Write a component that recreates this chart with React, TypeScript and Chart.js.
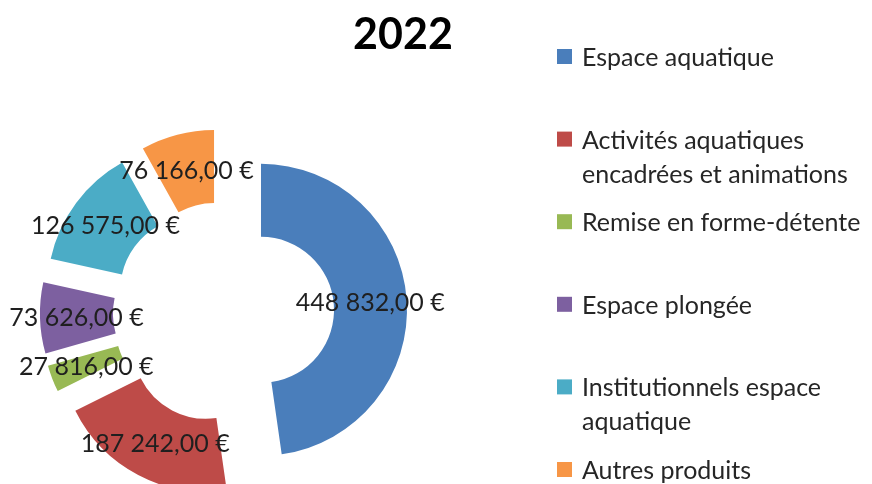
import React, { useEffect, useRef } from "react";
import { Chart, registerables } from "chart.js";

Chart.register(...registerables);

const TITLE = "2022";
const categories = [
  "Espace aquatique",
  "Activités aquatiques encadrées et animations",
  "Remise en forme-détente",
  "Espace plongée",
  "Institutionnels espace aquatique",
  "Autres produits",
];
const values = [448832, 187242, 27816, 73626, 126575, 76166];
const colors = ["#4A7EBB", "#BE4B48", "#98B954", "#7D60A0", "#4BACC6", "#F79646"];

const FONT = "Lato, 'Open Sans', sans-serif";
const EXPLODE = 0.2575; // fraction of outer radius

function formatEuro(v: number): string {
  const [intPart, dec] = v.toFixed(2).split(".");
  const withSpaces = intPart.replace(/\B(?=(\d{3})+(?!\d))/g, " ");
  return `${withSpaces},${dec} €`;
}

function wrap(ctx: CanvasRenderingContext2D, text: string, maxWidth: number): string[] {
  const words = text.split(" ");
  const lines: string[] = [];
  let cur = "";
  for (const w of words) {
    const test = cur ? cur + " " + w : w;
    if (ctx.measureText(test).width > maxWidth && cur) {
      lines.push(cur);
      cur = w;
    } else {
      cur = test;
    }
  }
  if (cur) lines.push(cur);
  return lines;
}

const explodePlugin = {
  id: "explode",
  beforeDatasetDraw(chart: any, args: any) {
    args.meta.data.forEach((arc: any) => {
      if (arc._exploded) return;
      const base = Object.getPrototypeOf(arc).draw;
      arc.draw = function (ctx: CanvasRenderingContext2D) {
        const d = EXPLODE * this.outerRadius;
        const mid = (this.startAngle + this.endAngle) / 2;
        ctx.save();
        ctx.translate(Math.cos(mid) * d, Math.sin(mid) * d);
        base.call(this, ctx);
        ctx.restore();
      };
      arc._exploded = true;
    });
  },
};

const decorPlugin = {
  id: "decor",
  afterDatasetsDraw(chart: any) {
    const ctx: CanvasRenderingContext2D = chart.ctx;
    const meta = chart.getDatasetMeta(0);
    const ds = chart.data.datasets[0];
    ctx.save();
    // data labels
    ctx.font = `25px ${FONT}`;
    ctx.fillStyle = "#1f1f1f";
    ctx.textAlign = "center";
    ctx.textBaseline = "alphabetic";
    meta.data.forEach((arc: any, i: number) => {
      const mid = (arc.startAngle + arc.endAngle) / 2;
      const r = (arc.innerRadius + arc.outerRadius) / 2 + EXPLODE * arc.outerRadius;
      const x = arc.x + Math.cos(mid) * r;
      const y = arc.y + Math.sin(mid) * r;
      ctx.fillText(formatEuro(ds.data[i] as number), x, y + 9);
    });

    // title
    ctx.font = `bold 43px ${FONT}`;
    ctx.fillStyle = "#000";
    ctx.fillText(TITLE, 403, 49);

    // legend
    ctx.font = `25px ${FONT}`;
    ctx.textAlign = "left";
    const labels: string[] = chart.data.labels;
    labels.forEach((lab, i) => {
      const yc = 57 + i * 82.6;
      ctx.fillStyle = (ds.backgroundColor as string[])[i];
      ctx.fillRect(557, yc - 8, 15, 15);
      ctx.fillStyle = "#262626";
      const lines = wrap(ctx, lab, 292);
      lines.forEach((ln, j) => {
        ctx.fillText(ln, 582, yc + 9 + j * 34);
      });
    });
    ctx.restore();
  },
};

export default function App() {
  const ref = useRef<HTMLCanvasElement | null>(null);
  useEffect(() => {
    if (!ref.current) return;
    const chart = new Chart(ref.current, {
      type: "doughnut",
      data: {
        labels: categories,
        datasets: [
          {
            data: values,
            backgroundColor: colors,
            borderWidth: 0,
          },
        ],
      },
      options: {
        responsive: false,
        animation: false,
        cutout: "50%",
        layout: { padding: { left: 77.5, top: 166.5, right: 502.5, bottom: 25.5 } },
        plugins: {
          legend: { display: false },
          title: { display: false },
          tooltip: { enabled: false },
        },
        events: [],
      },
      plugins: [explodePlugin, decorPlugin],
    });
    return () => chart.destroy();
  }, []);
  return (
    <div style={{ position: "absolute", left: 0, top: 0, width: 872, height: 484, background: "#fff", overflow: "hidden" }}>
      <canvas ref={ref} width={872} height={484} style={{ width: 872, height: 484, display: "block" }} />
    </div>
  );
}
